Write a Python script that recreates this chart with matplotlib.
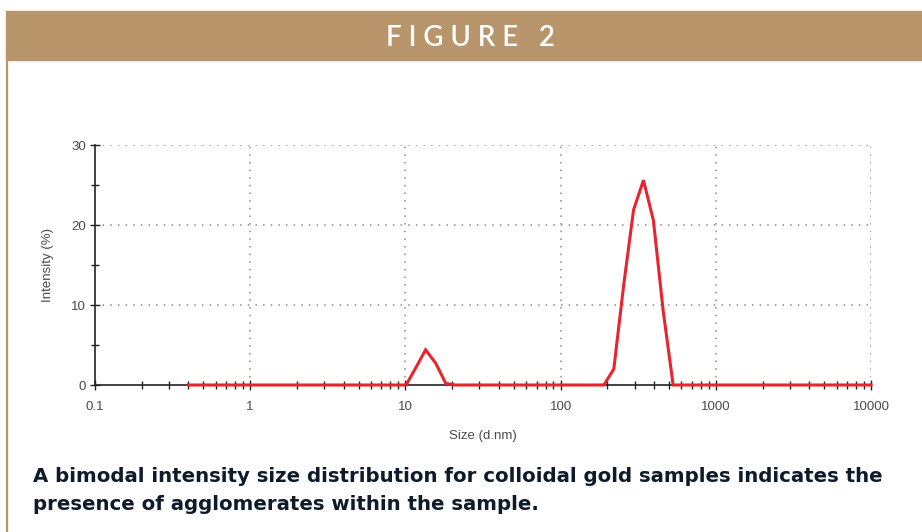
import numpy as np
import matplotlib
matplotlib.use("Agg")
import matplotlib.pyplot as plt
from matplotlib.ticker import LogLocator, FixedLocator, NullFormatter, FuncFormatter
from matplotlib.patches import Rectangle
from matplotlib.lines import Line2D

# ---- data (DLS intensity distribution, log-spaced size bins) ----
size_nm = [0.4, 10.1, 11.7, 13.5, 15.7, 18.2, 21.0, 190.1, 220.2, 255.0, 295.3,
           342.0, 396.0, 458.6, 531.1, 10000]
intensity_pct = [0, 0, 2.2, 4.4, 2.7, 0.2, 0, 0, 2.0, 12.5, 21.9, 25.6, 20.6,
                 9.2, 0, 0]
x_ticks = [0.1, 1, 10, 100, 1000, 10000]
x_tick_labels = ["0.1", "1", "10", "100", "1000", "10000"]
y_ticks = [0, 10, 20, 30]
title_text = "FIGURE 2"
x_label = "Size (d.nm)"
y_label = "Intensity (%)"
caption_lines = ["A bimodal intensity size distribution for colloidal gold samples indicates the",
                 "presence of agglomerates within the sample."]

W, H = 922, 532
gold = "#B8956A"
fig = plt.figure(figsize=(W / 100, H / 100), dpi=100)
fig.patch.set_facecolor("white")

# header band and left border
fig.patches.append(Rectangle((6 / W, 1 - 60 / H), 1 - 6 / W, 49 / H,
                             transform=fig.transFigure, color=gold, zorder=0))
fig.lines.append(Line2D([7 / W, 7 / W], [0, 1 - 60 / H], transform=fig.transFigure,
                        color=gold, lw=1.6))
fig.text(470 / W, 1 - 38 / H, " ".join(list(title_text)),
         color="white", fontsize=20, family="Lato", ha="center", va="center",
         fontweight="semibold")

ax = fig.add_axes([95 / W, 1 - 385 / H, (871 - 95) / W, (385 - 145) / H])
ax.plot(size_nm, intensity_pct, color="#E8242C", lw=2.2, zorder=3, clip_on=False,
        solid_joinstyle="miter")
ax.set_xscale("log")
ax.set_xlim(0.1, 10000)
ax.set_ylim(0, 30)

for s in ["top", "right"]:
    ax.spines[s].set_visible(False)
for s in ["left", "bottom"]:
    ax.spines[s].set_linewidth(1.2)
    ax.spines[s].set_color("#222222")
    ax.spines[s].set_zorder(2)

ax.xaxis.set_major_locator(FixedLocator(x_ticks))
ax.xaxis.set_major_formatter(FuncFormatter(lambda v, p: x_tick_labels[x_ticks.index(v)] if v in x_ticks else ""))
ax.xaxis.set_minor_locator(LogLocator(base=10, subs=np.arange(2, 10)))
ax.xaxis.set_minor_formatter(NullFormatter())
ax.yaxis.set_major_locator(FixedLocator(y_ticks))
ax.yaxis.set_minor_locator(FixedLocator([5, 15, 25]))

ax.tick_params(axis="both", which="both", direction="inout", color="#222222",
               labelcolor="#4a4a4a", labelsize=9.5, width=1)
ax.tick_params(axis="both", which="major", length=7)
ax.tick_params(axis="x", which="major", pad=8)
ax.tick_params(axis="y", which="major", pad=3)
ax.tick_params(axis="both", which="minor", length=6)
for lab in ax.get_xticklabels() + ax.get_yticklabels():
    lab.set_family("Liberation Sans")

# dotted grid (not on the axes lines)
for xv in x_ticks[1:]:
    ax.axvline(xv, color="#8a8a8a", lw=1.1, ls=(0, (1, 4)), zorder=1)
for yv in y_ticks[1:]:
    ax.axhline(yv, color="#8a8a8a", lw=1.1, ls=(0, (1, 4)), zorder=1)

ax.set_xlabel(x_label, fontsize=9.5, color="#4a4a4a", family="Liberation Sans", labelpad=12)
ax.set_ylabel(y_label, fontsize=9.5, color="#4a4a4a", family="Liberation Sans", labelpad=12)

# caption, fitted to the reference width
cap_kw = dict(color="#0D1B2A", family="DejaVu Sans", fontweight="bold", ha="left", va="center")
t1 = fig.text(33 / W, 1 - 477 / H, caption_lines[0], fontsize=14, **cap_kw)
fig.canvas.draw()
wpx = t1.get_window_extent().width
fs = 14 * 852 / wpx
t1.set_fontsize(fs)
fig.text(33 / W, 1 - 504 / H, caption_lines[1], fontsize=fs, **cap_kw)

fig.savefig("out.png", dpi=100, facecolor="white")
